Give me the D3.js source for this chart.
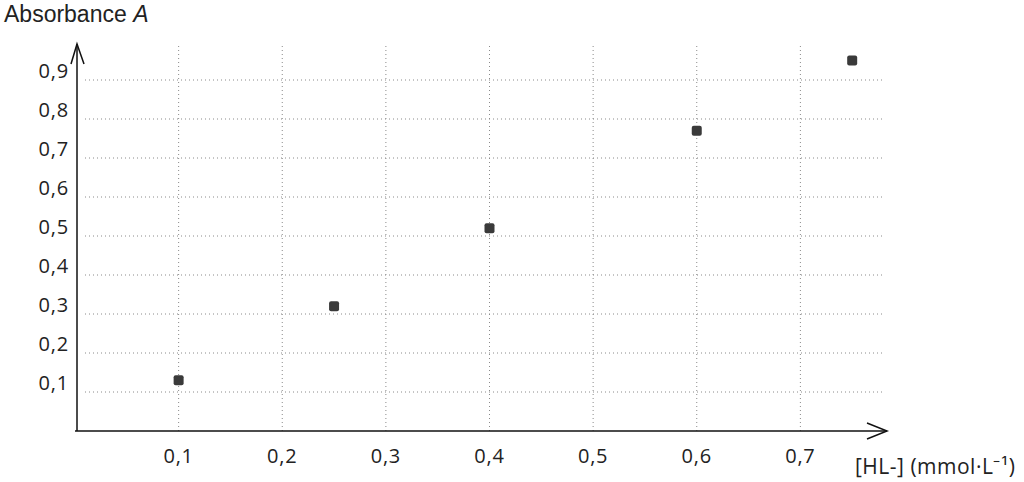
<!DOCTYPE html>
<html>
  <head>
    <style>
    body { margin: 0; background: #fff; }
    .grid line { stroke: #8a8a8a; stroke-width: 1; stroke-dasharray: 1,3; }
    .tick-label { font-family: 'Open Sans', sans-serif; font-size: 20px; letter-spacing: 0.8px; fill: #222; }
    </style>
  </head>
  <body>

    <svg width="1024" height="482"></svg>

    <script src="https://cdn.jsdelivr.net/npm/d3@7/dist/d3.min.js"></script>
    <script>

      const concentration = [0.1, 0.25, 0.4, 0.6, 0.75]
      const absorbance = [0.13, 0.32, 0.52, 0.77, 0.95]
      const xTicks = [0.1, 0.2, 0.3, 0.4, 0.5, 0.6, 0.7]
      const yTicks = [0.1, 0.2, 0.3, 0.4, 0.5, 0.6, 0.7, 0.8, 0.9]
      const fmt = v => d3.format('.1f')(v).replace('.', ',')

      const svg = d3.select('svg')

      const x = d3.scaleLinear().domain([0, 0.8]).range([75, 904])
      const y = d3.scaleLinear().domain([0, 1]).range([431, 41])

      const grid = svg.append('g').attr('class', 'grid')

      grid.selectAll('.h')
        .data(yTicks)
        .enter().append('line')
          .attr('x1', 85).attr('x2', 882)
          .attr('y1', d => y(d)).attr('y2', d => y(d))

      grid.selectAll('.v')
        .data(xTicks)
        .enter().append('line')
          .attr('x1', d => x(d)).attr('x2', d => x(d))
          .attr('y1', 46).attr('y2', 431)

      // axes with open arrow heads
      const axisStyle = g => g.attr('stroke', '#111').attr('stroke-width', 1.5).attr('fill', 'none')
      svg.append('line').call(axisStyle)
        .attr('x1', 75).attr('y1', 431).attr('x2', 887).attr('y2', 431)
      svg.append('path').call(axisStyle)
        .attr('d', 'M867,423 L887,431 L867,439')
      svg.append('line').call(axisStyle)
        .attr('x1', 77).attr('y1', 431).attr('x2', 77).attr('y2', 44)
      svg.append('path').call(axisStyle)
        .attr('d', 'M71,64 L77,44 L84,64')

      svg.selectAll('.ylab')
        .data(yTicks)
        .enter().append('text')
          .attr('class', 'tick-label')
          .attr('x', 69)
          .attr('y', d => y(d) - 2)
          .attr('text-anchor', 'end')
          .text(fmt)

      svg.selectAll('.xlab')
        .data(xTicks)
        .enter().append('text')
          .attr('class', 'tick-label')
          .attr('x', d => x(d))
          .attr('y', 463)
          .attr('text-anchor', 'middle')
          .text(fmt)

      const title = svg.append('text')
        .attr('x', 4).attr('y', 22)
        .attr('font-family', 'Liberation Sans, Arial, sans-serif')
        .attr('font-size', 23)
        .attr('fill', '#222')
      title.append('tspan').text('Absorbance ')
      title.append('tspan').attr('font-style', 'italic').text('A')

      svg.append('text')
        .attr('font-family', 'Open Sans, sans-serif')
        .attr('font-size', 21)
        .attr('letter-spacing', 0.5)
        .attr('fill', '#222')
        .attr('x', 855).attr('y', 474)
        .text('[HL-] (mmol·L⁻¹)')

      svg.selectAll('.pt')
        .data(concentration.map((c, i) => ({ c, a: absorbance[i] })))
        .enter().append('rect')
          .attr('x', d => x(d.c) - 5)
          .attr('y', d => y(d.a) - 5)
          .attr('width', 10)
          .attr('height', 10)
          .attr('rx', 2)
          .attr('fill', '#3a3a3a')

    </script>
  </body>
</html>
